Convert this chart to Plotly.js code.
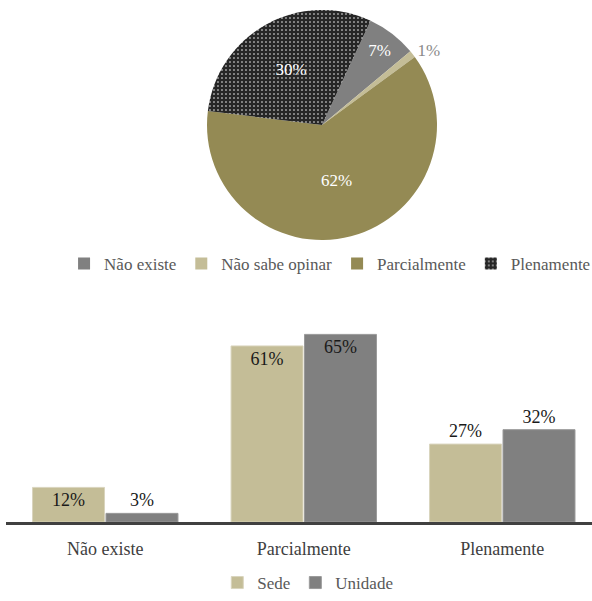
<!DOCTYPE html>
<html>
<head>
<meta charset="utf-8">
<script src="https://cdn.plot.ly/plotly-3.0.1.min.js"></script>
<style>html,body{margin:0;padding:0;background:#fff;}#chart{width:592px;height:601px;}</style>
</head>
<body>
<div id="chart"></div>
<script>
// Pie data
const pieLabels = ['Não existe', 'Não sabe opinar', 'Parcialmente', 'Plenamente'];
const pieValues = [7, 1, 62, 30];
const pieColors = ['#808080', '#C4BD97', '#948A54', '#262626'];

// Bar data
const barCategories = ['Não existe', 'Parcialmente', 'Plenamente'];
const sedeValues = [12, 61, 27];
const unidadeValues = [3, 65, 32];
const sedeTextPos = ['inside', 'inside', 'outside'];
const unidadeTextPos = ['outside', 'inside', 'outside'];

const FONT = 'Liberation Serif, Times New Roman, serif';

const pie = {
  type: 'pie',
  labels: pieLabels,
  values: pieValues,
  sort: false,
  direction: 'clockwise',
  rotation: 25,
  textinfo: 'percent',
  texttemplate: '%{percent:.0%}',
  textposition: ['inside', 'outside', 'inside', 'inside'],
  insidetextorientation: 'horizontal',
  textfont: {family: FONT, size: 17, color: '#ffffff'},
  outsidetextfont: {family: FONT, size: 17, color: '#8a8a8a'},
  marker: {
    colors: pieColors,
    line: {width: 0},
    pattern: {shape: ['', '', '', '.'], fgcolor: '#ffffff', bgcolor: '#262626', size: 4, solidity: 0.12}
  },
  domain: {x: [0.343, 0.7355], y: [0.6007, 0.9834]},
  legend: 'legend',
  hoverinfo: 'label+percent'
};

const sede = {
  type: 'bar', name: 'Sede', x: barCategories, y: sedeValues,
  marker: {color: '#C4BD97', line: {color: '#d9d4bd', width: 1}},
  text: sedeValues.map(v => v + '%'),
  textposition: sedeTextPos,
  insidetextanchor: 'end',
  constraintext: 'none',
  cliponaxis: false,
  textfont: {family: FONT, size: 18, color: '#1a1a1a'},
  legend: 'legend2',
  xaxis: 'x', yaxis: 'y'
};
const unidade = {
  type: 'bar', name: 'Unidade', x: barCategories, y: unidadeValues,
  marker: {color: '#808080', line: {color: '#9a9a9a', width: 1}},
  text: unidadeValues.map(v => v + '%'),
  textposition: unidadeTextPos,
  insidetextanchor: 'end',
  constraintext: 'none',
  cliponaxis: false,
  textfont: {family: FONT, size: 18, color: '#1a1a1a'},
  legend: 'legend2',
  xaxis: 'x', yaxis: 'y'
};

const layout = {
  width: 592, height: 601,
  margin: {l: 6, r: 0, t: 0, b: 0, autoexpand: false},
  paper_bgcolor: '#ffffff', plot_bgcolor: 'rgba(0,0,0,0)',
  font: {family: FONT, size: 17, color: '#595959'},
  barmode: 'group',
  bargap: 0.26,
  bargroupgap: 0.02,
  showlegend: true,
  xaxis: {
    domain: [0, 1],
    range: [-0.5, 2.452],
    showline: true, linecolor: '#404040', linewidth: 3,
    ticks: '', showgrid: false, zeroline: false,
    tickfont: {family: FONT, size: 18, color: '#404040'},
    ticklabelstandoff: 8,
    automargin: false,
    fixedrange: true
  },
  yaxis: {
    domain: [0.1314, 0.4676],
    range: [0, 70],
    showticklabels: false, showgrid: false, zeroline: false, showline: false, ticks: '',
    automargin: false,
    fixedrange: true
  },
  legend: {
    orientation: 'h', x: 0.553, xanchor: 'center', y: 0.561, yanchor: 'middle',
    font: {family: FONT, size: 17, color: '#595959'},
    itemwidth: 30, tracegroupgap: 0, bgcolor: 'rgba(0,0,0,0)'
  },
  legend2: {
    orientation: 'h', x: 0.515, xanchor: 'center', y: 0, yanchor: 'bottom',
    font: {family: FONT, size: 17, color: '#595959'},
    itemwidth: 30, bgcolor: 'rgba(0,0,0,0)'
  }
};

Plotly.newPlot('chart', [pie, sede, unidade], layout, {displayModeBar: false, staticPlot: true});
</script>
</body>
</html>
